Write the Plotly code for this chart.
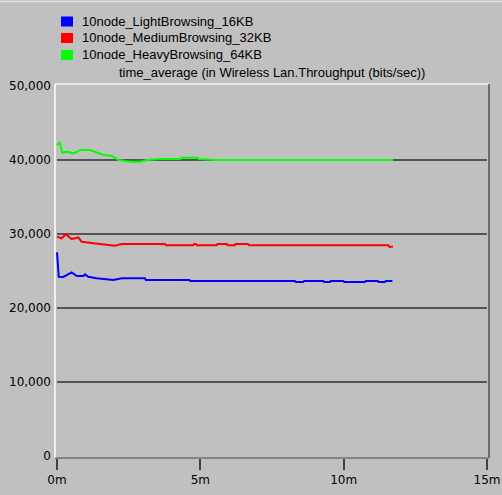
import plotly.graph_objects as go

# ---- data (time in minutes, throughput in bits/sec) ----
series_names = ["10node_LightBrowsing_16KB", "10node_MediumBrowsing_32KB", "10node_HeavyBrowsing_64KB"]
series_colors = ["#0000FF", "#FF0000", "#00FF00"]

light_t = [0, 0.06, 0.22, 0.51, 0.69, 0.92, 0.98, 1.09, 1.38, 1.96, 2.26, 3.07, 3.1, 4.62, 4.65,
           8.3, 8.33, 8.59, 8.62, 9.29, 9.32, 9.52, 9.55, 9.99, 10.02, 10.74, 10.77, 11.19, 11.22,
           11.44, 11.47, 11.7]
light_v = [27520, 24230, 24190, 24820, 24320, 24320, 24550, 24230, 24010, 23780, 24010, 24010, 23780,
           23780, 23650, 23650, 23510, 23510, 23650, 23650, 23510, 23510, 23650, 23650, 23510, 23510,
           23650, 23650, 23510, 23510, 23650, 23650]

medium_t = [0, 0.16, 0.31, 0.51, 0.74, 0.86, 1.27, 1.62, 2.02, 2.26, 3.77, 3.8, 4.75, 4.78, 4.85,
            4.88, 5.57, 5.6, 5.93, 5.96, 6.2, 6.23, 6.66, 6.7, 11.56, 11.6, 11.72]
medium_v = [29640, 29420, 29960, 29320, 29550, 28960, 28740, 28600, 28420, 28650, 28650, 28470, 28470,
            28650, 28650, 28470, 28470, 28650, 28650, 28470, 28470, 28650, 28650, 28470, 28470, 28240,
            28300]

heavy_t = [0, 0.1, 0.18, 0.34, 0.58, 0.81, 1.15, 1.38, 1.62, 1.9, 2.14, 2.55, 2.9, 3.13, 3.6, 4.3,
           4.35, 4.9, 4.95, 5.5, 6.2, 6.25, 6.3, 7.0, 8.0, 9.0, 10.0, 11.0, 11.73]
heavy_v = [42030, 42340, 41000, 41100, 40900, 41350, 41350, 41040, 40680, 40580, 40000, 39780, 39780,
           40000, 40140, 40140, 40310, 40310, 40140, 40000, 40000, 40100, 40000, 40000, 40000, 40000,
           40000, 40000, 40000]

series_t = [light_t, medium_t, heavy_t]
series_v = [light_v, medium_v, heavy_v]

y_tickvals = [0, 10000, 20000, 30000, 40000, 50000]
y_ticktext = ["0", "10,000", "20,000", "30,000", "40,000", "50,000"]
x_tickvals = [0, 5, 10, 15]
x_ticktext = ["0m", "5m", "10m", "15m"]
chart_title = "time_average (in Wireless Lan.Throughput (bits/sec))"

# ---- layout geometry (pixels) ----
W, H = 502, 495
L, R, T, B = 55, 489, 84, 458
FONT = "Liberation Sans"
TICKFONT = "DejaVu Sans"


def px_x(x):
    return (x - L) / (R - L)


def px_y(y):
    return (B - y) / (B - T)


fig = go.Figure()
for name, color, t, v in zip(series_names, series_colors, series_t, series_v):
    fig.add_trace(go.Scatter(x=t, y=v, mode="lines", name=name,
                             line=dict(color=color, width=2), showlegend=False))

shapes = []
# gridlines spanning the data time range
for yv in y_tickvals[1:-1]:
    shapes.append(dict(type="line", xref="x", yref="y", x0=x_tickvals[0], x1=x_tickvals[-1],
                       y0=yv, y1=yv, line=dict(color="#303030", width=1.5), layer="below"))
# 3D-style frame
shapes += [
    dict(type="line", xref="paper", yref="paper", x0=0, x1=0, y0=0, y1=1, line=dict(color="#FFFFFF", width=1.5)),
    dict(type="line", xref="paper", yref="paper", x0=0, x1=1, y0=1, y1=1, line=dict(color="#F4F4F4", width=1.5)),
    dict(type="line", xref="paper", yref="paper", x0=1, x1=1, y0=0, y1=1, line=dict(color="#505050", width=1.5)),
    dict(type="line", xref="paper", yref="paper", x0=0, x1=1, y0=0, y1=0, line=dict(color="#707070", width=1.5)),
    dict(type="line", xref="paper", yref="paper", x0=px_x(0), x1=px_x(W), y0=px_y(1.5), y1=px_y(1.5),
         line=dict(color="#E0E0E0", width=1.5)),
]

annotations = []
legend_rows = [21.5, 38, 55]
for name, color, yc in zip(series_names, series_colors, legend_rows):
    shapes.append(dict(type="rect", xref="paper", yref="paper", x0=px_x(61), x1=px_x(73),
                       y0=px_y(yc + 5), y1=px_y(yc - 5), fillcolor=color, line=dict(width=0)))
    annotations.append(dict(text=name, xref="paper", yref="paper", x=px_x(80), y=px_y(yc),
                            xanchor="left", yanchor="middle", showarrow=False,
                            font=dict(family=FONT, size=13, color="#000000")))
annotations.append(dict(text=chart_title, xref="paper", yref="paper", x=px_x(272), y=px_y(72),
                        xanchor="center", yanchor="middle", showarrow=False,
                        font=dict(family=FONT, size=13, color="#000000")))

fig.update_layout(
    width=W, height=H,
    margin=dict(l=L, r=W - R, t=T, b=H - B, pad=0, autoexpand=False),
    paper_bgcolor="#C0C0C0", plot_bgcolor="#C0C0C0",
    font=dict(family=FONT, size=12.5, color="#000000"),
    shapes=shapes, annotations=annotations,
    showlegend=False,
)
fig.update_xaxes(range=[-0.07, 15.07], tickvals=x_tickvals, ticktext=x_ticktext,
                 showgrid=False, zeroline=False, showline=False, automargin=False,
                 ticks="outside", ticklen=11, tickwidth=1.5, tickcolor="#404040",
                 tickfont=dict(family=TICKFONT, size=12, color="#000000"), fixedrange=True)
fig.update_yaxes(range=[-270, 50270], tickvals=y_tickvals, ticktext=y_ticktext,
                 showgrid=False, zeroline=False, showline=False, ticks="", automargin=False,
                 ticklabelstandoff=3,
                 tickfont=dict(family=TICKFONT, size=12, color="#000000"), fixedrange=True)

fig.write_html("out.html", config={"displayModeBar": False},
               post_script="document.body.style.margin='0';document.body.style.background='#C0C0C0';")
